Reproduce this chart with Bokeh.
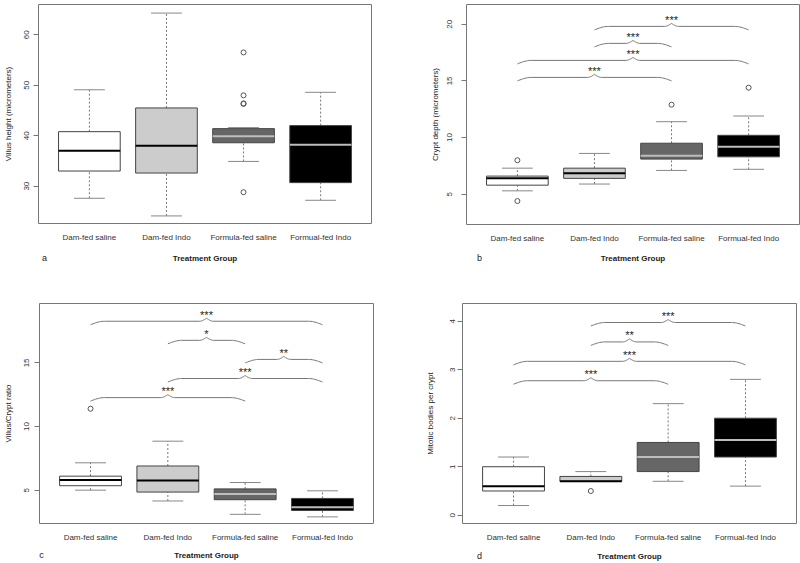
import numpy as np
from bokeh.plotting import figure
from bokeh.models import Range1d, FixedTicker, LinearAxis
from bokeh.layouts import column, row
from bokeh.embed import file_html
from bokeh.resources import INLINE
from bokeh.core.properties import value

groups = ["Dam-fed saline", "Dam-fed Indo", "Formula-fed saline", "Formual-fed Indo"]
box_fill = ["#ffffff", "#cccccc", "#666666", "#000000"]
median_color = ["#000000", "#000000", "#bdbdbd", "#bdbdbd"]

# Panel a: villus height
a_low = [27.6, 24.1, 34.9, 27.2]
a_q1 = [33.0, 32.6, 38.6, 30.7]
a_med = [37.0, 38.0, 39.9, 38.2]
a_q3 = [40.8, 45.5, 41.4, 42.0]
a_high = [49.1, 64.3, 41.6, 48.6]
a_out = [[], [], [56.5, 48.0, 46.3, 46.4, 28.8], []]
a_ticks = [30, 40, 50, 60]

# Panel b: crypt depth
b_low = [5.3, 5.9, 7.1, 7.2]
b_q1 = [5.8, 6.4, 8.1, 8.3]
b_med = [6.4, 6.85, 8.4, 9.2]
b_q3 = [6.6, 7.3, 9.5, 10.2]
b_high = [7.3, 8.6, 11.4, 11.9]
b_out = [[8.0, 4.4], [], [12.9], [14.4]]
b_ticks = [5, 10, 15, 20]
b_left = [1, 1, 2, 2]
b_right = [3, 4, 3, 4]
b_base = [15.0, 16.5, 18.0, 19.5]
b_sig = ["***", "***", "***", "***"]

# Panel c: villus/crypt ratio
c_low = [5.0, 4.15, 3.1, 2.9]
c_q1 = [5.35, 4.85, 4.25, 3.4]
c_med = [5.8, 5.75, 4.7, 3.65]
c_q3 = [6.1, 6.9, 5.1, 4.35]
c_high = [7.15, 8.85, 5.6, 4.95]
c_out = [[11.4], [], [], []]
c_ticks = [5, 10, 15]
c_left = [1, 2, 3, 2, 1]
c_right = [3, 4, 4, 3, 4]
c_base = [12.0, 13.5, 15.0, 16.5, 18.0]
c_sig = ["***", "***", "**", "*", "***"]

# Panel d: mitotic bodies
d_low = [0.2, 0.7, 0.7, 0.6]
d_q1 = [0.5, 0.7, 0.9, 1.2]
d_med = [0.6, 0.7, 1.2, 1.55]
d_q3 = [1.0, 0.8, 1.5, 2.0]
d_high = [1.2, 0.9, 2.3, 2.8]
d_out = [[], [0.5], [], []]
d_ticks = [0, 1, 2, 3, 4]
d_left = [1, 1, 2, 2]
d_right = [3, 4, 3, 4]
d_base = [2.7, 3.1, 3.5, 3.9]
d_sig = ["***", "***", "**", "***"]

FONT = "Liberation Sans"
GREY = "#777777"
X0, X1 = 0.34, 4.66


def brace(x1, x2, base, sx, sy):
    r = 3.5 / sy
    w = 14 / sx
    r2 = 3 / sy
    w2 = 7 / sx
    xm = (x1 + x2) / 2
    t = np.linspace(0, 1, 12)
    xs = list(x1 + w * t) + list(xm - w2 + w2 * t) + list(xm + w2 * t) + list(x2 - w + w * t)
    ys = (list(base + r * np.sin(t * np.pi / 2))
          + list(base + r + r2 * (1 - np.cos(t * np.pi / 2)))
          + list(base + r + r2 * (1 - np.sin(t * np.pi / 2)))
          + list(base + r * np.cos(t * np.pi / 2)))
    return xs, ys


def panel(letter, ylabel, low, q1, med, q3, high, out, ticks, yr,
          borders, fsize, tick_sd, lab_sd, letter_dx, row2_sd,
          bl=None, br=None, bb=None, bs=None):
    top, rightb, bottom, left = borders
    fw, fh = fsize
    sx = fw / (X1 - X0)
    sy = fh / (yr[1] - yr[0])
    p = figure(frame_width=fw, frame_height=fh, x_range=Range1d(X0, X1),
               y_range=Range1d(*yr),
               output_backend="svg", toolbar_location=None,
               min_border_top=top, min_border_right=rightb,
               min_border_bottom=bottom, min_border_left=left)
    p.xgrid.visible = False
    p.ygrid.visible = False
    p.outline_line_color = GREY
    p.outline_line_width = 1
    p.background_fill_color = "white"
    p.border_fill_color = "white"

    xs = [i + 1 for i in range(len(groups))]
    p.xaxis.ticker = FixedTicker(ticks=xs)
    p.xaxis.major_label_overrides = {x: g for x, g in zip(xs, groups)}
    p.xaxis.axis_line_color = None
    p.xaxis.major_tick_line_color = None
    p.xaxis.minor_tick_line_color = None
    p.xaxis.major_tick_out = 0
    p.xaxis.major_tick_in = 0
    p.xaxis.major_label_standoff = 9

    p.yaxis.ticker = FixedTicker(ticks=ticks)
    p.yaxis.axis_line_color = None
    p.yaxis.minor_tick_line_color = None
    p.yaxis.major_tick_line_color = GREY
    p.yaxis.major_tick_out = 5
    p.yaxis.major_tick_in = 0
    p.yaxis.major_label_orientation = "vertical"
    p.yaxis.major_label_standoff = tick_sd
    p.yaxis.axis_label = ylabel
    p.yaxis.axis_label_text_font_style = "normal"
    p.yaxis.axis_label_standoff = lab_sd

    # second row below: panel letter (left) and x-axis title (centred)
    lx = X0 + letter_dx / sx
    ax2 = LinearAxis(ticker=FixedTicker(ticks=[lx]), major_label_overrides={lx: letter},
                     axis_line_color=None, major_tick_line_color=None,
                     minor_tick_line_color=None, major_tick_out=0, major_tick_in=0,
                     major_label_standoff=row2_sd, axis_label="Treatment Group",
                     axis_label_standoff=-12)
    p.add_layout(ax2, "below")

    for ax in (p.xaxis[0], p.yaxis[0], ax2):
        ax.major_label_text_font = FONT
        ax.major_label_text_font_size = "8px"
        ax.major_label_text_color = "#333333"
        ax.axis_label_text_font = FONT
        ax.axis_label_text_font_size = "8px"
        ax.axis_label_text_color = "#222222"
    ax2.major_label_text_font_size = "9px"
    ax2.major_label_text_color = "#222222"
    ax2.axis_label_text_font_style = "bold"

    xl = [x - 0.2 for x in xs]
    xr = [x + 0.2 for x in xs]
    p.segment(x0=xs, y0=q3, x1=xs, y1=high, line_color=GREY, line_dash="2 2", line_width=1)
    p.segment(x0=xs, y0=low, x1=xs, y1=q1, line_color=GREY, line_dash="2 2", line_width=1)
    p.segment(x0=xl, y0=high, x1=xr, y1=high, line_color="#888888", line_width=1)
    p.segment(x0=xl, y0=low, x1=xr, y1=low, line_color="#888888", line_width=1)
    p.vbar(x=xs, width=0.8, bottom=q1, top=q3, fill_color=box_fill, line_color="#444444",
           line_width=1)
    p.segment(x0=[x - 0.4 for x in xs], y0=med, x1=[x + 0.4 for x in xs], y1=med,
              line_color=median_color, line_width=2)
    ox, oy = [], []
    for x, vals in zip(xs, out):
        for v in vals:
            ox.append(x)
            oy.append(v)
    if ox:
        p.scatter(x=ox, y=oy, marker="circle", size=5, fill_color=None,
                  line_color="#555555", line_width=1)

    if bl is not None:
        mx, my, tx, ty = [], [], [], []
        for a, b, base in zip(bl, br, bb):
            bx, by = brace(a, b, base, sx, sy)
            mx.append(bx)
            my.append(by)
            tx.append((a + b) / 2)
            ty.append(base + 10 / sy)
        p.multi_line(xs=mx, ys=my, line_color=GREY, line_width=1)
        p.text(x=tx, y=ty, text=bs, text_align="center", text_baseline="middle",
               text_font=value(FONT), text_font_size="11px", text_color="#222222")
    return p


# borders = (top, right, bottom, left); frame = (width, height)
pa = panel("a", "Villus height (micrometers)", a_low, a_q1, a_med, a_q3, a_high, a_out,
           a_ticks, (22.6, 66.0), (1, 29, 63, 38), (333, 219), 4, 9, 6, 8)
pb = panel("b", "Crypt depth (micrometers)", b_low, b_q1, b_med, b_q3, b_high, b_out,
           b_ticks, (2.33, 21.74), (4, 1, 59, 66), (333, 220), 9, 5, 13, 7,
           b_left, b_right, b_base, b_sig)
pc = panel("c", "Villus/Crypt ratio", c_low, c_q1, c_med, c_q3, c_high, c_out,
           c_ticks, (2.38, 19.67), (20, 27, 40, 39), (334, 220), 5, 9, 2, 5,
           c_left, c_right, c_base, c_sig)
pd = panel("d", "Mitotic bodies per crypt", d_low, d_q1, d_med, d_q3, d_high, d_out,
           d_ticks, (-0.17, 4.364), (20, 4, 40, 62), (334, 220), 2, 13, 17, 6,
           d_left, d_right, d_base, d_sig)

layout = column(row(pa, pb), row(pc, pd))
open("out.html", "w").write(file_html(layout, INLINE))
